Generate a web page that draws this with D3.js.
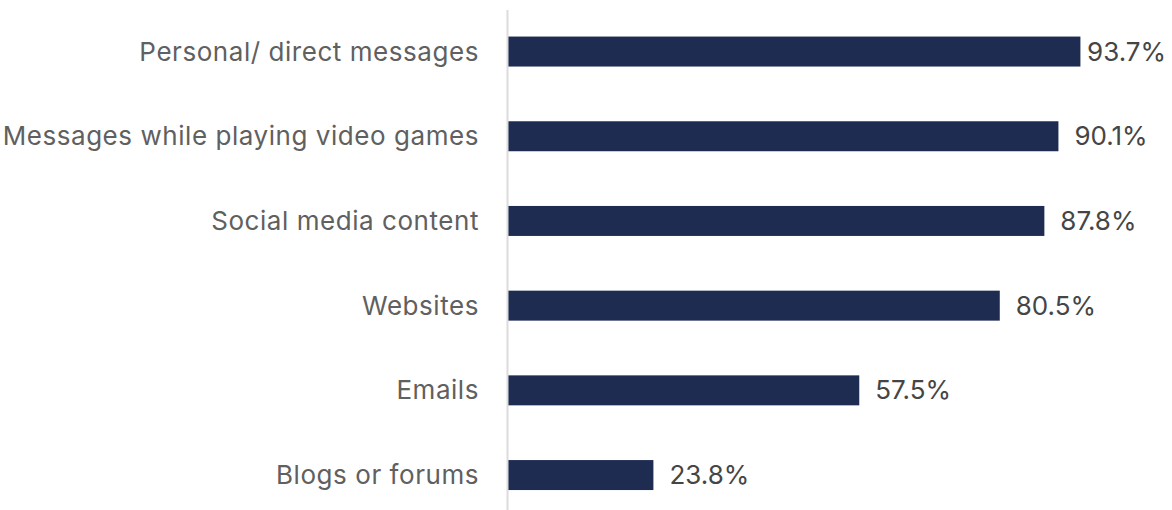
<!DOCTYPE html>
<html>
<head>
<meta charset="utf-8">
<script src="https://cdn.jsdelivr.net/npm/d3@7"></script>
<style>
  html, body { margin: 0; padding: 0; background: #ffffff; }
  svg { display: block; }
  text { font-family: Inter, "Noto Sans", sans-serif; }
</style>
</head>
<body>
<svg id="chart" width="1172" height="510"></svg>
<script>
// Share of respondents per channel (percent)
const categories = [
  "Personal/ direct messages",
  "Messages while playing video games",
  "Social media content",
  "Websites",
  "Emails",
  "Blogs or forums"
];
const values = [93.7, 90.1, 87.8, 80.5, 57.5, 23.8];
const valueLabels = ["93.7%", "90.1%", "87.8%", "80.5%", "57.5%", "23.8%"];

(function () {
  const W = 1172, H = 510;
  const baseX = 508;
  const step = 84.7;
  const plotTop = 9.2;

  const svg = d3.select("#chart");

  const x = d3.scaleLinear().domain([0, 100]).range([baseX, baseX + 610.9]);
  const y = d3.scaleBand()
    .domain(categories)
    .range([plotTop, plotTop + step * categories.length])
    .paddingInner(0.646)
    .paddingOuter(0.323);

  const rows = categories.map((c, i) => ({ c, v: values[i], label: valueLabels[i] }));

  // Bars
  svg.append("g")
    .selectAll("rect")
    .data(rows)
    .join("rect")
    .attr("x", x(0))
    .attr("y", d => y(d.c))
    .attr("width", d => x(d.v) - x(0))
    .attr("height", y.bandwidth())
    .attr("fill", "#1f2c52");

  // Baseline axis
  svg.append("line")
    .attr("x1", baseX - 0.5).attr("x2", baseX - 0.5)
    .attr("y1", 10).attr("y2", H)
    .attr("stroke", "#dcdcdc")
    .attr("stroke-width", 2);

  // Category labels
  const yAxis = d3.axisLeft(y).tickSize(0).tickPadding(29);
  const gAxis = svg.append("g")
    .attr("transform", `translate(${baseX},0)`)
    .call(yAxis);
  gAxis.select(".domain").remove();
  gAxis.selectAll("text")
    .attr("font-size", 26)
    .attr("fill", "#606060")
    .attr("dy", "0.35em")
    .style("letter-spacing", "0.55px")
    .style("font-family", "Inter, 'Noto Sans', sans-serif");

  // Value labels, kept inside the canvas
  svg.append("g")
    .selectAll("text")
    .data(rows)
    .join("text")
    .attr("x", d => x(d.v) + 16)
    .attr("y", d => y(d.c) + y.bandwidth() / 2)
    .attr("dy", "0.35em")
    .attr("font-size", 26)
    .attr("fill", "#454545")
    .text(d => d.label)
    .each(function () {
      const len = this.getComputedTextLength();
      const cur = +this.getAttribute("x");
      if (cur + len > W - 6) this.setAttribute("x", W - 6 - len);
    });
})();
</script>
</body>
</html>
